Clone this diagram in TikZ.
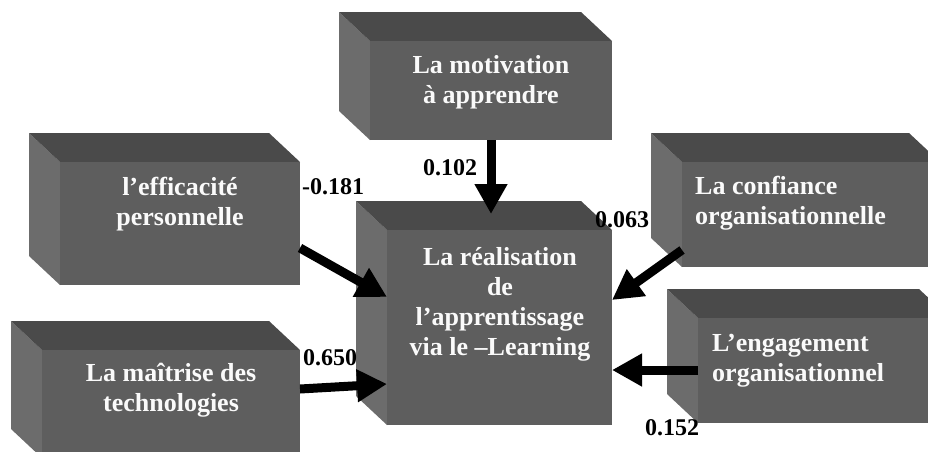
\documentclass[tikz,border=0pt]{standalone}
\usepackage{fontspec}
\setmainfont{Liberation Serif}
\usepackage{tikz}
\usetikzlibrary{calc}
\usetikzlibrary{arrows.meta}
\definecolor{frontgray}{HTML}{5E5E5E}
\definecolor{topgray}{HTML}{4A4A4A}
\definecolor{sidegray}{HTML}{6C6C6C}
\newcommand{\cube}[5]{ \fill[sideface] (#2-31,#3-29) -- (#2,#3) -- (#2,#5) -- (#2-31,#5-29) -- cycle; \fill[topface] (#2-31,#3-29) -- (#4-31,#3-29) -- (#4,#3) -- (#2,#3) -- cycle; \node[frontface, minimum width={(#4-#2)*1pt}, minimum height={(#5-#3)*1pt}] (#1) at ({(#2+#4)/2},{(#3+#5)/2}) {};}

\begin{document}
\begin{tikzpicture}[x=1pt,y=-1pt,
  sideface/.style={fill=sidegray},
  topface/.style={fill=topgray},
  frontface/.style={fill=frontgray, draw=none, inner sep=0pt, outer sep=0pt},
  boxtext/.style={text=white!96!gray, font=\bfseries\fontsize{26}{30}\selectfont, inner sep=0pt},
  coef/.style={text=black, font=\bfseries\fontsize{24}{28}\selectfont, inner sep=0pt},
  conn/.style={line width=9pt, -{Triangle[length=30pt,width=31pt]}}]
\useasboundingbox (0,0) rectangle (928,451);
\clip (0,0) rectangle (928,451);
%
\cube{mot}{370}{41}{612}{140}
\cube{eff}{60}{162}{300}{285}
\cube{real}{387}{230}{612}{425}
\cube{conf}{682}{162}{940}{267}
\cube{eng}{698}{318}{950}{423}
\cube{mait}{42}{350}{300}{458}
%
\node[boxtext, align=center] (tmot) at (491,82) {La motivation\\à apprendre};
\node[boxtext, align=center] (teff) at (180,204) {l’efficacité\\personnelle};
\node[boxtext, align=center] (treal) at (500,304) {La réalisation\\de\\l’apprentissage\\via le –Learning};
\node[boxtext, align=left, anchor=west] (tconf) at (695,203) {La confiance\\organisationnelle};
\node[boxtext, align=left, anchor=west] (teng) at (712,361) {L’engagement\\organisationnel};
\node[boxtext, align=center] (tmait) at (171,390) {La maîtrise des\\technologies};
%
\draw[conn] (mot.south) -- (mot.south |- 0,214);
\draw[conn] (eff.east |- 0,248) -- (real.west |- 0,297);
\draw[conn] (mait.east |- 0,389) -- (real.west |- 0,384);
\draw[conn] (conf.west |- 0,250) -- (real.east |- 0,300);
\draw[conn] (eng.west |- 0,370) -- (real.east |- 0,370);
%
\node[coef] (cmot) at (450,168) {0.102};
\node[coef] (ceff) at (333,187) {-0.181};
\node[coef] (cconf) at (622,220) {0.063};
\node[coef] (cmait) at (330,358) {0.650};
\node[coef] (ceng) at (672,428) {0.152};
\end{tikzpicture}
\end{document}
